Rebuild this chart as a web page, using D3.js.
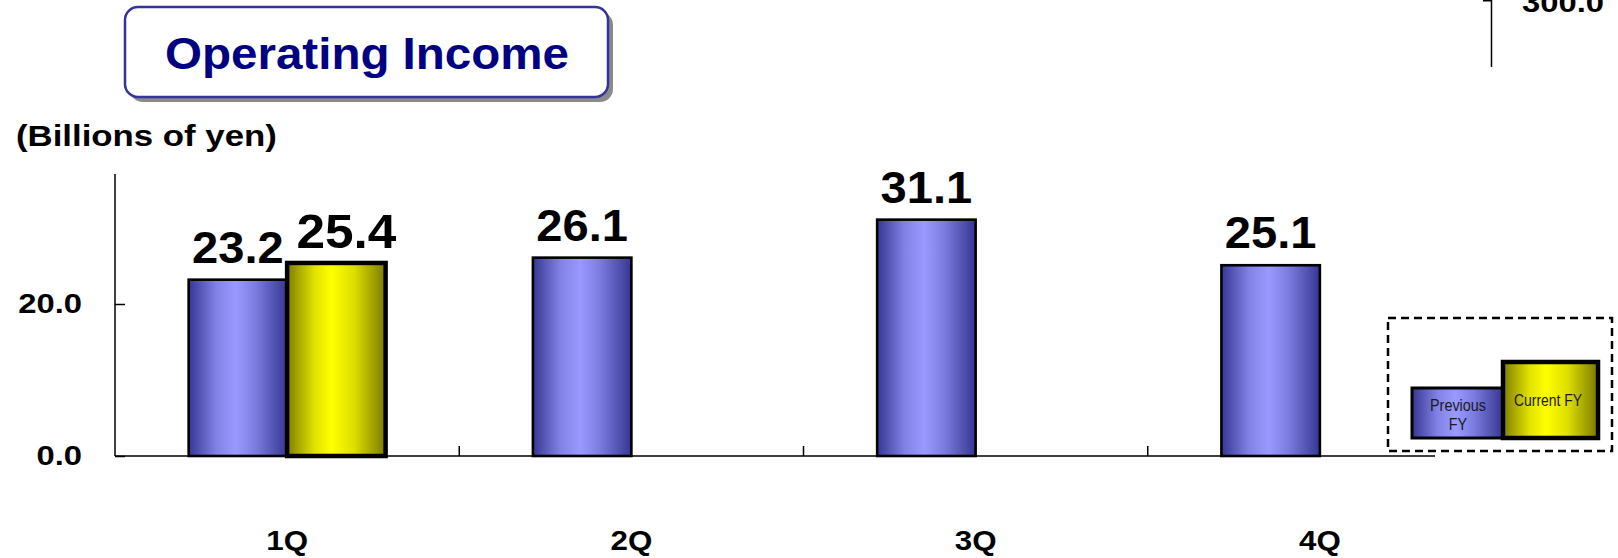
<!DOCTYPE html>
<html>
<head>
<meta charset="utf-8">
<script src="https://cdn.jsdelivr.net/npm/d3@7"></script>
<style>
  html, body { margin: 0; padding: 0; background: #fff; }
  svg { display: block; font-family: "Liberation Sans", Arial, sans-serif; }
</style>
</head>
<body>
<svg id="chart" width="1618" height="558"></svg>
<script>
// ---- data ----
const quarters = ["1Q", "2Q", "3Q", "4Q"];
const seriesKeys = ["prev", "curr"];
const previousFY = [23.2, 26.1, 31.1, 25.1];
const currentFY = [25.4, null, null, null];
const yTickValues = [0, 20];
const yTickLabels = ["0.0", "20.0"];
const titleText = "Operating Income";
const unitText = "(Billions of yen)";
const legendLabels = { prev: ["Previous", "FY"], curr: ["Current FY"] };

// ---- layout ----
const svg = d3.select("#chart");
const plotLeft = 115, plotRight = 1492, axisEnd = 1435;
const yBase = 456, yTop = 174;

const x0 = d3.scaleBand().domain(quarters).range([plotLeft, plotRight]).paddingInner(0).paddingOuter(0);
const x1 = d3.scaleBand().domain(seriesKeys).range([0, x0.bandwidth()]).paddingInner(0).paddingOuter(0.748);
const y = d3.scaleLinear().domain([0, 20]).range([yBase, 304]);

function stretch(sel, sx) {
  sel.each(function () {
    const t = d3.select(this);
    const x = +t.attr("x") || 0, yy = +t.attr("y") || 0;
    t.attr("x", 0).attr("y", 0).attr("transform", `translate(${x},${yy}) scale(${sx},1)`);
  });
}

// ---- gradients ----
const defs = svg.append("defs");
const blueGrad = defs.append("linearGradient").attr("id", "gBlue").attr("x1", "0").attr("x2", "1").attr("y1", "0").attr("y2", "0");
[[0, "#363694"], [0.28, "#8282e6"], [0.48, "#9999ff"], [0.68, "#7c7ce0"], [1, "#363692"]]
  .forEach(([o, c]) => blueGrad.append("stop").attr("offset", o).attr("stop-color", c));
const yelGrad = defs.append("linearGradient").attr("id", "gYel").attr("x1", "0").attr("x2", "1").attr("y1", "0").attr("y2", "0");
[[0, "#7e7e00"], [0.28, "#e2e200"], [0.45, "#ffff00"], [0.68, "#dede00"], [1, "#7a7a00"]]
  .forEach(([o, c]) => yelGrad.append("stop").attr("offset", o).attr("stop-color", c));

// ---- title box ----
svg.append("rect").attr("x", 130).attr("y", 12).attr("width", 483).attr("height", 90).attr("rx", 13)
  .attr("fill", "#8a8a8a");
svg.append("rect").attr("x", 125).attr("y", 7).attr("width", 483).attr("height", 90).attr("rx", 13)
  .attr("fill", "#fff").attr("stroke", "#33339a").attr("stroke-width", 2.5);
svg.append("text").attr("x", 367).attr("y", 69).attr("text-anchor", "middle")
  .attr("font-size", 44).attr("font-weight", "bold").attr("fill", "#000080")
  .text(titleText).call(stretch, 1.08);

// ---- unit label ----
svg.append("text").attr("x", 16).attr("y", 146).attr("font-size", 29).attr("font-weight", "bold")
  .attr("fill", "#000").text(unitText).call(stretch, 1.2);

// ---- stray fragment top right ----
svg.append("path").attr("d", "M1483,0.75 H1491.5 V67").attr("fill", "none").attr("stroke", "#000").attr("stroke-width", 1.5);
svg.append("text").attr("x", 1522).attr("y", 12).attr("font-size", 28).attr("font-weight", "bold")
  .text("300.0").call(stretch, 1.17);

// ---- y axis ----
const yAxis = d3.axisLeft(y).tickValues(yTickValues).tickFormat((d, i) => yTickLabels[i])
  .tickSizeInner(-10).tickSizeOuter(0).tickPadding(33);
const gy = svg.append("g").attr("transform", `translate(${plotLeft},0)`).call(yAxis);
gy.select(".domain").remove();
gy.selectAll(".tick line").attr("stroke", "#000").attr("stroke-width", 1.5);
gy.selectAll(".tick text").attr("font-size", 28).attr("font-weight", "bold")
  .attr("font-family", "Liberation Sans, Arial, sans-serif").attr("fill", "#000").call(stretch, 1.17);
gy.append("line").attr("x1", 0).attr("x2", 0).attr("y1", yTop).attr("y2", yBase)
  .attr("stroke", "#000").attr("stroke-width", 1.5);

// ---- x axis ----
const xAxis = d3.axisBottom(x0).tickSize(0).tickPadding(74);
const gx = svg.append("g").attr("transform", `translate(0,${yBase})`).call(xAxis);
gx.select(".domain").remove();
gx.selectAll(".tick text").attr("font-size", 28).attr("font-weight", "bold")
  .attr("font-family", "Liberation Sans, Arial, sans-serif").attr("fill", "#000").call(stretch, 1.12);
svg.append("line").attr("x1", plotLeft).attr("x2", axisEnd).attr("y1", yBase).attr("y2", yBase)
  .attr("stroke", "#000").attr("stroke-width", 1.5);
svg.selectAll(".sep").data(quarters.slice(1)).join("line").attr("class", "sep")
  .attr("x1", d => x0(d)).attr("x2", d => x0(d)).attr("y1", yBase).attr("y2", yBase - 10)
  .attr("stroke", "#000").attr("stroke-width", 1.5);

// ---- bars ----
const rows = quarters.map((q, i) => ({ q, prev: previousFY[i], curr: currentFY[i] }));
const barG = svg.append("g");
rows.forEach(r => {
  seriesKeys.forEach(k => {
    const v = r[k];
    if (v == null) return;
    const bx = x0(r.q) + x1(k), bw = x1.bandwidth();
    barG.append("rect").attr("x", bx).attr("y", y(v)).attr("width", bw).attr("height", yBase - y(v))
      .attr("fill", k === "prev" ? "url(#gBlue)" : "url(#gYel)")
      .attr("stroke", "#000").attr("stroke-width", k === "prev" ? 2.6 : 4.5);
    const lbl = barG.append("text")
      .attr("x", bx + bw / 2 + (k === "curr" ? 10 : 0))
      .attr("y", y(v) - (k === "curr" ? 15 : 17))
      .attr("text-anchor", "middle").attr("font-weight", "bold")
      .attr("font-size", k === "curr" ? 48 : 44).attr("fill", "#000")
      .text(v.toFixed(1));
    lbl.call(stretch, 1.07);
  });
});

// ---- legend ----
const lg = svg.append("g");
lg.append("rect").attr("x", 1388).attr("y", 318).attr("width", 224).attr("height", 133)
  .attr("fill", "none").attr("stroke", "#000").attr("stroke-width", 2.5).attr("stroke-dasharray", "8,5");
lg.append("rect").attr("x", 1412).attr("y", 388).attr("width", 91).attr("height", 50)
  .attr("fill", "url(#gBlue)").attr("stroke", "#000").attr("stroke-width", 3);
lg.append("rect").attr("x", 1503).attr("y", 362).attr("width", 95).attr("height", 76)
  .attr("fill", "url(#gYel)").attr("stroke", "#000").attr("stroke-width", 4.5);
legendLabels.prev.forEach((t, i) => {
  lg.append("text").attr("x", 1458).attr("y", 411 + i * 19).attr("text-anchor", "middle")
    .attr("font-size", 16).attr("fill", "#1a1a1a").text(t).call(stretch, 0.9);
});
legendLabels.curr.forEach((t, i) => {
  lg.append("text").attr("x", 1548).attr("y", 406 + i * 19).attr("text-anchor", "middle")
    .attr("font-size", 16).attr("fill", "#1a1a1a").text(t).call(stretch, 0.87);
});
</script>
</body>
</html>
